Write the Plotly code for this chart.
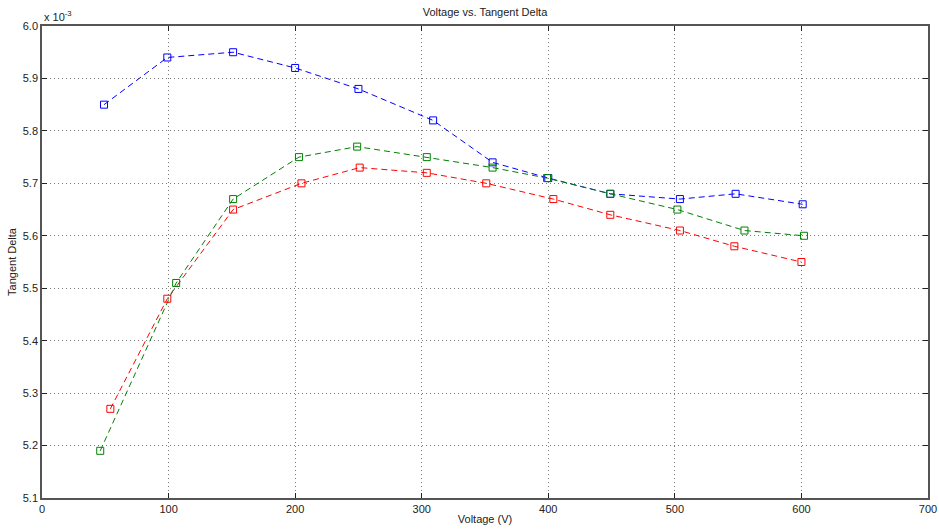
import plotly.graph_objects as go

voltage_blue = [49, 99, 151, 200, 250, 309, 356, 400, 449, 504, 548, 601]
tan_blue = [5.85, 5.94, 5.95, 5.92, 5.88, 5.82, 5.74, 5.71, 5.68, 5.67, 5.68, 5.66]

voltage_green = [46, 106, 151, 203, 249, 304, 356, 399, 449, 502, 555, 602]
tan_green = [5.19, 5.51, 5.67, 5.75, 5.77, 5.75, 5.73, 5.71, 5.68, 5.65, 5.61, 5.60]

voltage_red = [54, 99, 151, 205, 251, 304, 351, 404, 449, 504, 547, 600]
tan_red = [5.27, 5.48, 5.65, 5.70, 5.73, 5.72, 5.70, 5.67, 5.64, 5.61, 5.58, 5.55]

series = [
    (voltage_blue, tan_blue, "rgb(0,0,255)"),
    (voltage_green, tan_green, "rgb(0,128,0)"),
    (voltage_red, tan_red, "rgb(255,0,0)"),
]

fig = go.Figure()
for xs, ys, c in series:
    fig.add_trace(go.Scatter(
        x=xs, y=ys, mode="lines+markers",
        line=dict(color=c, width=1, dash="6px,4px"),
        marker=dict(symbol="square-open", size=7, color=c, line=dict(width=1, color=c)),
        showlegend=False,
    ))

font = dict(family="Liberation Sans, Arial, sans-serif", size=11, color="#222")
axis_common = dict(
    showline=True, linecolor="#555", linewidth=1.5, mirror="ticks",
    ticks="inside", ticklen=5, tickcolor="#222", tickwidth=1,
    showgrid=True, gridcolor="#777", griddash="1px,3px", gridwidth=1,
    zeroline=False, tickfont=font, automargin=False,
)
fig.update_xaxes(range=[0, 700], dtick=100, tick0=0,
                 title=dict(text="Voltage (V)", font=font, standoff=1), **axis_common)
fig.update_yaxes(range=[5.1, 6.0], dtick=0.1, tick0=5.1, tickformat=".1f",
                 title=dict(text="Tangent Delta", font=font, standoff=4), **axis_common)

fig.add_annotation(xref="paper", yref="paper", x=0, y=1, xanchor="left", yanchor="bottom",
                   text="x 10<sup>-3</sup>", showarrow=False, font=font, yshift=1)

fig.update_layout(
    width=939, height=532,
    margin=dict(l=42, r=11, t=26, b=34),
    paper_bgcolor="white", plot_bgcolor="white",
    title=dict(text="Voltage vs. Tangent Delta", x=0.5, xref="paper", y=0.985, yanchor="top",
               font=dict(family="Liberation Sans, Arial, sans-serif", size=11, color="#222")),
    font=font,
)

fig.write_html("out.html")
